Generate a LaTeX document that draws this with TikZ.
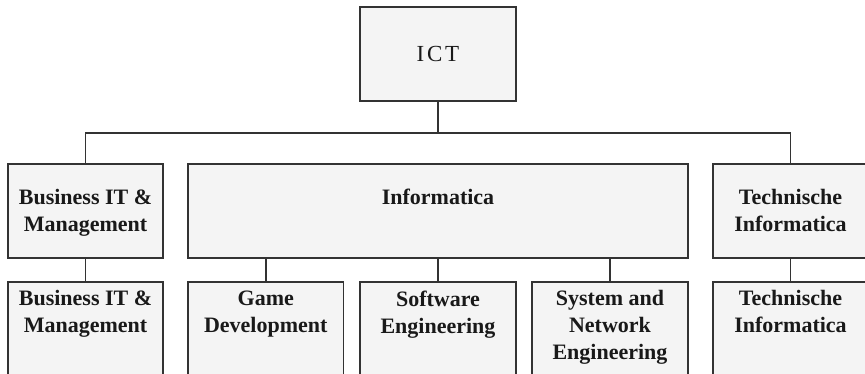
\documentclass[tikz,border=0pt]{standalone}
\usepackage{fontspec}
\setmainfont{Liberation Serif}
\usetikzlibrary{positioning}
\definecolor{boxfill}{HTML}{F4F4F4}
\definecolor{boxline}{HTML}{333333}
\tikzset{
	box/.style={draw=boxline,fill=boxfill,line width=1.8pt,anchor=north west,inner sep=0pt,outer sep=0pt,minimum height=94pt},
	subbox/.style={box,minimum height=120pt},
	unitlabel/.style={align=center,inner sep=0pt,anchor=north,text=black!90,font=\fontsize{22}{27}\selectfont\bfseries,execute at begin node=\vphantom{Tf}},
	link/.style={draw=boxline,line width=1.6pt}
}

\begin{document}
\begin{tikzpicture}[x=1pt,y=-1pt]
	\useasboundingbox (0,0) rectangle (865,373);
	\clip (0,0) rectangle (865,373);
	% top
	\node[box,minimum width=156pt] (ict) at (360,7) {};
	\node[anchor=center,text=black!90,font=\fontsize{23}{27}\selectfont\addfontfeature{LetterSpace=12}] (tict) at (ict.center) {ICT};
	% first row
	\node[box,minimum width=155pt] (bitA) at (8,164) {};
	\node[box,minimum width=500pt] (info) at (188,164) {};
	\node[box,minimum width=155pt] (tiA) at (713,164) {};
	\node[unitlabel] (tbitA) at ([yshift=-25pt]bitA.north) {Business IT \&\\Management};
	\node[unitlabel] (tinfo) at ([yshift=-25pt]info.north) {Informatica};
	\node[unitlabel] (ttiA) at ([yshift=-25pt]tiA.north) {Technische\\Informatica};
	% second row
	\node[subbox,minimum width=155pt] (bitB) at (8,282) {};
	\node[subbox,minimum width=155.5pt] (game) at (188,282) {};
	\node[subbox,minimum width=156pt] (soft) at (360,282) {};
	\node[subbox,minimum width=156pt] (sne) at (532,282) {};
	\node[subbox,minimum width=155pt] (tiB) at (713,282) {};
	\node[unitlabel] (tbitB) at ([yshift=-8.5pt]bitB.north) {Business IT \&\\Management};
	\node[unitlabel] (tgame) at ([yshift=-8.5pt]game.north) {Game\\Development};
	\node[unitlabel] (tsoft) at ([yshift=-8.5pt]soft.north) {Software\\Engineering};
	\node[unitlabel] (tsne) at ([yshift=-8.5pt]sne.north) {System and\\Network\\Engineering};
	\node[unitlabel] (ttiB) at ([yshift=-8.5pt]tiB.north) {Technische\\Informatica};
	% links
	\coordinate (bus) at (ict.south |- 0,133);
	\draw[link] (ict.south) -- (bus);
	\draw[link] (bitA.north) |- (bus) -| (tiA.north);
	\draw[link] (bitA.south) -- (bitB.north);
	\draw[link] (tiA.south) -- (tiB.north);
	\draw[link] (game.north) -- (game.north |- info.south);
	\draw[link] (soft.north) -- (soft.north |- info.south);
	\draw[link] (sne.north) -- (sne.north |- info.south);
\end{tikzpicture}
\end{document}
